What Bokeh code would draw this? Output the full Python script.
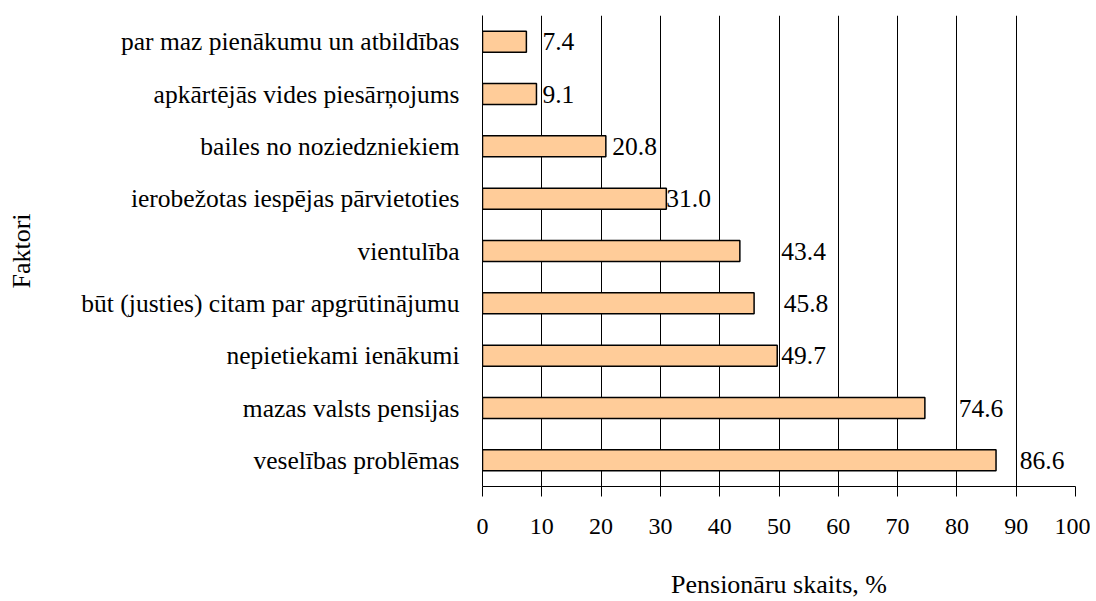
from bokeh.plotting import figure
from bokeh.models import FactorRange, Range1d, SingleIntervalTicker, ColumnDataSource
from bokeh.embed import file_html
from bokeh.resources import INLINE
from bokeh.core.properties import value

# data (bottom to top)
categories = [
    "veselības problēmas",
    "mazas valsts pensijas",
    "nepietiekami ienākumi",
    "būt (justies) citam par apgrūtinājumu",
    "vientulība",
    "ierobežotas iespējas pārvietoties",
    "bailes no noziedzniekiem",
    "apkārtējās vides piesārņojums",
    "par maz pienākumu un atbildības",
]
values = [86.6, 74.6, 49.7, 45.8, 43.4, 31.0, 20.8, 9.1, 7.4]
value_labels = ["86.6", "74.6", "49.7", "45.8", "43.4", "31.0", "20.8", "9.1", "7.4"]
# where the data labels sit on the x scale (as placed in the original)
label_x = [90.6, 80.3, 50.4, 50.8, 50.4, 31.0, 21.9, 10.1, 10.1]
x_ticks_interval = 10
x_title = "Pensionāru skaits, %"
y_title = "Faktori"

FONT = "Liberation Serif"

p = figure(
    width=1090, height=601,
    y_range=FactorRange(factors=categories),
    x_range=Range1d(0, 100),
    output_backend="svg", toolbar_location=None,
    min_border_top=15, min_border_right=15, min_border_left=482, min_border_bottom=113,
)
p.outline_line_color = None
p.background_fill_color = "white"

src = ColumnDataSource(dict(cat=categories, val=values, lab=value_labels, lx=label_x))
p.hbar(y="cat", right="val", left=0, height=0.4, source=src,
       fill_color="#FFCC99", line_color="black", line_width=1.5)
p.text(x="lx", y="cat", text="lab", source=src, text_align="left",
       text_baseline="middle", text_font=value(FONT), text_font_size="25.5px",
       text_color="black")

# x axis
p.xaxis.ticker = SingleIntervalTicker(interval=x_ticks_interval)
p.xaxis.axis_label = x_title
p.xaxis.axis_label_text_font = FONT
p.xaxis.axis_label_text_font_style = "normal"
p.xaxis.axis_label_text_font_size = "26px"
p.xaxis.axis_label_standoff = 33
p.xaxis.axis_label_text_color = "black"
p.xaxis.major_label_text_font = FONT
p.xaxis.major_label_text_font_size = "24px"
p.xaxis.major_label_standoff = 22
p.xaxis.major_tick_out = 10
p.xaxis.major_tick_in = 0
p.xaxis.minor_tick_out = 0
p.xaxis.minor_tick_in = 0
p.xaxis.axis_line_color = "black"
p.xaxis.major_tick_line_color = "black"
p.xaxis.major_label_text_color = "black"

# y axis
p.yaxis.axis_label = y_title
p.yaxis.axis_label_text_font = FONT
p.yaxis.axis_label_text_font_style = "normal"
p.yaxis.axis_label_text_font_size = "26px"
p.yaxis.axis_label_standoff = 42
p.yaxis.axis_label_text_color = "black"
p.yaxis.major_label_text_font = FONT
p.yaxis.major_label_text_font_size = "25.5px"
p.yaxis.major_label_standoff = 23
p.yaxis.major_tick_out = 0
p.yaxis.major_tick_in = 0
p.yaxis.axis_line_color = "black"
p.yaxis.major_label_text_color = "black"

p.xgrid.grid_line_color = "black"
p.xgrid.grid_line_alpha = 1
p.xgrid.grid_line_width = 1
p.ygrid.grid_line_color = None

open("out.html", "w").write(file_html(p, INLINE))
